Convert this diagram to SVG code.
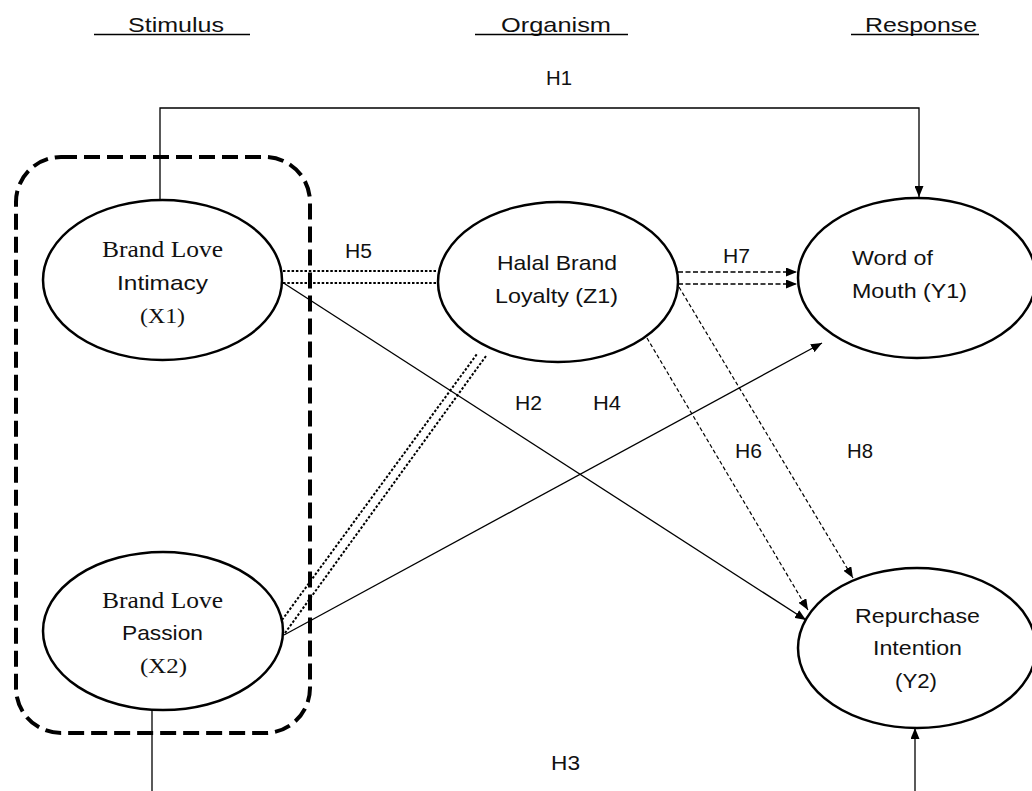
<svg xmlns="http://www.w3.org/2000/svg" width="1032" height="791" viewBox="0 0 1032 791">
<defs>
<marker id="arr" markerUnits="userSpaceOnUse" markerWidth="11" markerHeight="9" refX="11" refY="4.5" orient="auto">
<path d="M0,0 L11,4.5 L0,9 z" fill="#000"/>
</marker>
<style>
.sans{font-family:"Liberation Sans",Arial,sans-serif;fill:#111}
.serif{font-family:"Liberation Serif","Times New Roman",serif;fill:#111}
.hd{font-size:21px}
.lbl{font-size:20px}
.nt{font-size:21px}
.ns{font-size:24px}
.np{font-size:20px}
.node{fill:#fff;stroke:#000;stroke-width:2.5}
.solid{fill:none;stroke:#000;stroke-width:1.3}
.dot{fill:none;stroke:#000;stroke-width:2;stroke-dasharray:2.5 1.8}
.dash{fill:none;stroke:#000;stroke-width:1.5;stroke-dasharray:5 2.5}
.thin{fill:none;stroke:#000;stroke-width:1.2;stroke-dasharray:4 2.5}
.ul{stroke:#000;stroke-width:1.3}
</style>
</defs>
<rect width="1032" height="791" fill="#fff"/>

<g id="headings">
<text class="sans hd" x="128" y="32" textLength="96" lengthAdjust="spacingAndGlyphs">Stimulus</text>
<line class="ul" x1="94" y1="34.5" x2="250" y2="34.5"/>
<text class="sans hd" x="501" y="32" textLength="110" lengthAdjust="spacingAndGlyphs">Organism</text>
<line class="ul" x1="475" y1="34.5" x2="628" y2="34.5"/>
<text class="sans hd" x="865" y="32" textLength="112" lengthAdjust="spacingAndGlyphs">Response</text>
<line class="ul" x1="851" y1="34.5" x2="979" y2="34.5"/>
</g>

<g id="stimulus-group">
<rect x="16" y="157" width="294" height="576" rx="45" ry="45" fill="none" stroke="#000" stroke-width="4" stroke-dasharray="16 7"/>
</g>

<g id="connectors">
<path class="solid" d="M160,200 V108 H919 V197" marker-end="url(#arr)"/>
<line class="dot" x1="283" y1="271" x2="437" y2="271"/>
<line class="dot" x1="283" y1="283" x2="437" y2="283"/>
<line class="dash" x1="678" y1="272" x2="797" y2="272" marker-end="url(#arr)"/>
<line class="dash" x1="678" y1="284" x2="797" y2="284" marker-end="url(#arr)"/>
<line class="dot" x1="282" y1="620" x2="477" y2="354"/>
<line class="dot" x1="285" y1="633" x2="486" y2="356"/>
<line class="solid" x1="282" y1="282" x2="806" y2="620" marker-end="url(#arr)"/>
<line class="solid" x1="284" y1="635" x2="822" y2="343" marker-end="url(#arr)"/>
<line class="thin" x1="647" y1="338" x2="808" y2="610" marker-end="url(#arr)"/>
<line class="thin" x1="679" y1="287" x2="853" y2="578" marker-end="url(#arr)"/>
<line class="solid" x1="152" y1="710" x2="152" y2="791"/>
<line class="solid" x1="915" y1="791" x2="915" y2="728" marker-end="url(#arr)"/>
</g>

<g id="labels">
<text class="sans lbl" x="546" y="85" textLength="26" lengthAdjust="spacingAndGlyphs">H1</text>
<text class="sans lbl" x="345" y="258" textLength="27" lengthAdjust="spacingAndGlyphs">H5</text>
<text class="sans lbl" x="723" y="263" textLength="27" lengthAdjust="spacingAndGlyphs">H7</text>
<text class="sans lbl" x="515" y="410" textLength="27" lengthAdjust="spacingAndGlyphs">H2</text>
<text class="sans lbl" x="593" y="410" textLength="28" lengthAdjust="spacingAndGlyphs">H4</text>
<text class="sans lbl" x="735" y="458" textLength="27" lengthAdjust="spacingAndGlyphs">H6</text>
<text class="sans lbl" x="847" y="458" textLength="26" lengthAdjust="spacingAndGlyphs">H8</text>
<text class="sans lbl" x="551" y="770" textLength="29" lengthAdjust="spacingAndGlyphs">H3</text>
</g>

<g id="X1">
<ellipse class="node" cx="162.5" cy="280" rx="119.5" ry="80"/>
<text class="serif ns" x="102" y="257" textLength="121" lengthAdjust="spacingAndGlyphs">Brand Love</text>
<text class="sans nt" x="117" y="290" textLength="91" lengthAdjust="spacingAndGlyphs">Intimacy</text>
<text class="serif np" x="140" y="323" textLength="45" lengthAdjust="spacingAndGlyphs">(X1)</text>
</g>

<g id="X2">
<ellipse class="node" cx="163" cy="631" rx="120" ry="79"/>
<text class="serif ns" x="102" y="608" textLength="121" lengthAdjust="spacingAndGlyphs">Brand Love</text>
<text class="sans nt" x="122" y="640" textLength="81" lengthAdjust="spacingAndGlyphs">Passion</text>
<text class="serif np" x="140" y="673" textLength="47" lengthAdjust="spacingAndGlyphs">(X2)</text>
</g>

<g id="Z1">
<ellipse class="node" cx="558" cy="282" rx="120" ry="80"/>
<text class="sans nt" x="497" y="270" textLength="120" lengthAdjust="spacingAndGlyphs">Halal Brand</text>
<text class="sans nt" x="495" y="303" textLength="123" lengthAdjust="spacingAndGlyphs">Loyalty (Z1)</text>
</g>

<g id="Y1">
<ellipse class="node" cx="917" cy="278" rx="119" ry="80"/>
<text class="sans nt" x="852" y="265" textLength="81" lengthAdjust="spacingAndGlyphs">Word of</text>
<text class="sans nt" x="852" y="298" textLength="115" lengthAdjust="spacingAndGlyphs">Mouth (Y1)</text>
</g>

<g id="Y2">
<ellipse class="node" cx="917" cy="648" rx="119" ry="80"/>
<text class="sans nt" x="855" y="623" textLength="125" lengthAdjust="spacingAndGlyphs">Repurchase</text>
<text class="sans nt" x="873" y="655" textLength="89" lengthAdjust="spacingAndGlyphs">Intention</text>
<text class="sans nt" x="895" y="688" textLength="42" lengthAdjust="spacingAndGlyphs">(Y2)</text>
</g>
</svg>
